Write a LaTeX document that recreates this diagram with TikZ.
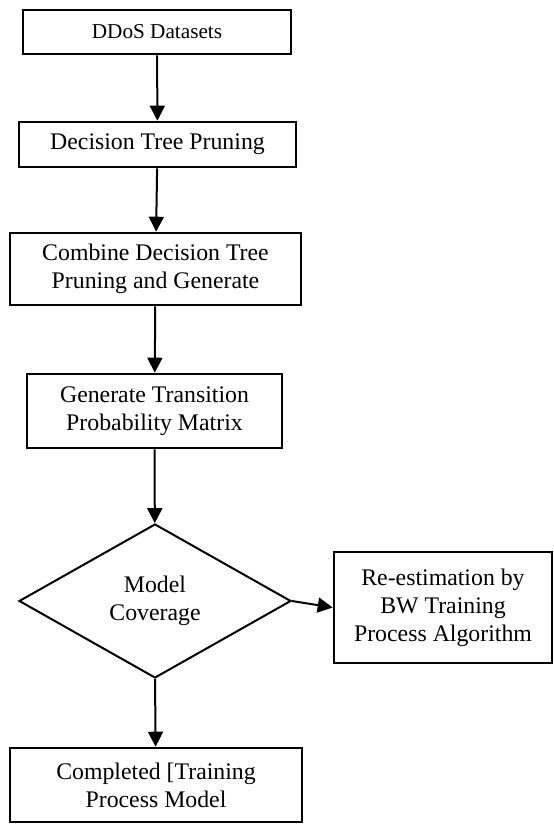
\documentclass[tikz,border=0pt]{standalone}
\usepackage{fontspec}
\setmainfont{Liberation Serif}
\usetikzlibrary{shapes.geometric,arrows.meta}

\tikzset{
  box/.style={draw, line width=1.3pt, rectangle, align=center, inner sep=0pt,
    font=\fontsize{11.9}{14}\selectfont},
  dec/.style={draw, line width=1pt, diamond, align=center, inner sep=0pt,
    font=\fontsize{11.9}{14}\selectfont},
  arr/.style={-{Triangle[length=7.5pt,width=7.5pt]}, line width=1pt},
}

\begin{document}
\begin{tikzpicture}[x=0.5pt,y=-0.5pt]
    \useasboundingbox (0,0) rectangle (553,824);

    % Steps
    \node[box, minimum width=134pt, minimum height=22pt, font=\fontsize{10.6}{12}\selectfont]
        (data) at (157,32) {DDoS Datasets};
    \node[box, minimum width=138.5pt, minimum height=22.5pt]
        (prune) at (157.5,144.5) {\raisebox{-2.5pt}{Decision Tree Pruning}};
    \node[box, minimum width=145.5pt, minimum height=36pt]
        (combine) at (155.5,269) {Combine Decision Tree\\Pruning and Generate};
    \node[box, minimum width=127.5pt, minimum height=37pt]
        (matrix) at (154.5,411) {Generate Transition\\Probability Matrix};

    % Decision
    \node[dec, minimum width=136pt, minimum height=77pt]
        (cover) at (155,601) {Model\\Coverage};
    \node[box, minimum width=109pt, minimum height=55.5pt]
        (reest) at (443,607.5) {Re-estimation by\\BW Training\\Process Algorithm};
    \node[box, minimum width=146pt, minimum height=37pt]
        (done) at (156,785) {Completed [Training\\Process Model};

    % Flow
    \draw[arr] (data) -- (prune);
    \draw[arr] (prune) -- (combine);
    \draw[arr] (combine) -- (matrix);
    \draw[arr] (matrix) -- (cover);
    \draw[arr] (cover.east) -- (reest.west);
    \draw[arr] (cover.south) -- (done);
\end{tikzpicture}
\end{document}
